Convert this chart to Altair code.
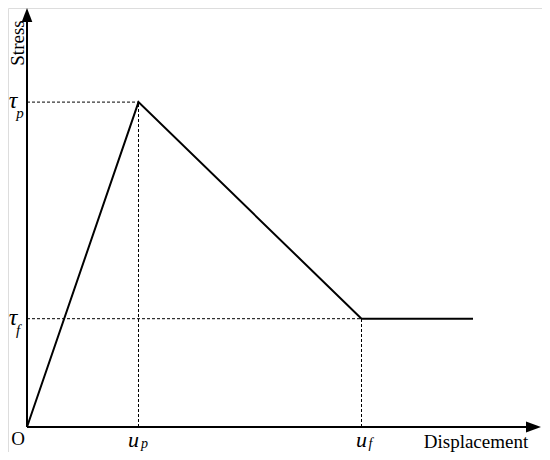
import altair as alt
import pandas as pd

# Key points of the stress-displacement curve (arbitrary units)
curve_x = [0.0, 1.0, 3.0, 4.0]
curve_y = [0.0, 3.0, 1.0, 1.0]
u_p, u_f = 1.0, 3.0
tau_p, tau_f = 3.0, 1.0

W, H = 534, 444
PX_X, PX_Y = 111.5, 108.3
OX, OY = 19, 419  # origin inside the view, pixels
x_dom = [-OX / PX_X, (W - OX) / PX_X]
y_dom = [-(H - OY) / PX_Y, OY / PX_Y]
x_tip = x_dom[1] - 1 / PX_X
y_tip = y_dom[1]

xs = alt.Scale(domain=x_dom, nice=False, zero=False)
ys = alt.Scale(domain=y_dom, nice=False, zero=False)
X = lambda f="x": alt.X(f"{f}:Q", scale=xs, axis=None)
Y = lambda f="y": alt.Y(f"{f}:Q", scale=ys, axis=None)

FONT = "Liberation Serif"

axes_df = pd.DataFrame({
    "x": [0.0, 0.0], "y": [0.0, 0.0],
    "x2": [x_tip - 8 / PX_X, 0.0], "y2": [0.0, y_tip - 8 / PX_Y],
})
axes = alt.Chart(axes_df).mark_rule(color="black", strokeWidth=2).encode(
    x=X(), y=Y(), x2="x2:Q", y2="y2:Q")

arrow_up = alt.Chart(pd.DataFrame({"x": [0.0], "y": [y_tip]})).mark_point(
    shape="M0,0L-0.38,1L0.38,1Z", filled=True, color="black", opacity=1, size=784,
    strokeWidth=0).encode(x=X(), y=Y())
arrow_right = alt.Chart(pd.DataFrame({"x": [x_tip], "y": [0.0]})).mark_point(
    shape="M0,0L-1,-0.37L-1,0.37Z", filled=True, color="black", opacity=1, size=900,
    strokeWidth=0).encode(x=X(), y=Y())

dash_df = pd.DataFrame({
    "x": [0.0, u_p, 0.0, u_f],
    "y": [tau_p, 0.0, tau_f, 0.0],
    "x2": [u_p, u_p, u_f, u_f],
    "y2": [tau_p, tau_p, tau_f, tau_f],
})
dashes = alt.Chart(dash_df).mark_rule(color="black", strokeWidth=1, strokeDash=[3, 2]).encode(
    x=X(), y=Y(), x2="x2:Q", y2="y2:Q")

curve_df = pd.DataFrame({"x": curve_x, "y": curve_y, "o": list(range(len(curve_x)))})
curve = alt.Chart(curve_df).mark_line(color="black", strokeWidth=2).encode(
    x=X(), y=Y(), order="o:Q")


def label(text, x, y, size, dx=0, dy=0, italic=False, angle=0, align="center"):
    kw = dict(text=text, font=FONT, fontSize=size, color="black", align=align,
              baseline="middle", dx=dx, dy=dy)
    if italic:
        kw["fontStyle"] = "italic"
    if angle:
        kw["angle"] = angle
    return alt.Chart(pd.DataFrame({"x": [x], "y": [y]})).mark_text(**kw).encode(x=X(), y=Y())


texts = [
    label("O", 0.0, 0.0, 19, dx=-9, dy=12),
    label("Stress", (18 - 27) / PX_X, (427 - 43) / PX_Y, 19, angle=270),
    label("Displacement", (476 - 27) / PX_X, 0.0, 19, dy=15),
    label("τ", 0.0, tau_p, 24, dx=-14, dy=-1, italic=True),
    label("p", 0.0, tau_p, 15, dx=-7, dy=11, italic=True),
    label("τ", 0.0, tau_f, 24, dx=-14, dy=-1, italic=True),
    label("f", 0.0, tau_f, 15, dx=-9, dy=11, italic=True),
    label("u", u_p, 0.0, 22, dx=-5, dy=13, italic=True),
    label("p", u_p, 0.0, 14, dx=6, dy=17, italic=True),
    label("u", u_f, 0.0, 22, dx=0, dy=13, italic=True),
    label("f", u_f, 0.0, 14, dx=9, dy=17, italic=True),
]

chart = alt.layer(axes, dashes, curve, arrow_up, arrow_right, *texts).properties(
    width=W, height=H, padding=0,
    autosize=alt.AutoSizeParams(type="none"),
).configure_view(strokeWidth=0, stroke="transparent").configure(background="white")

chart.save("out.html", embed_options={"renderer": "svg", "actions": False})
